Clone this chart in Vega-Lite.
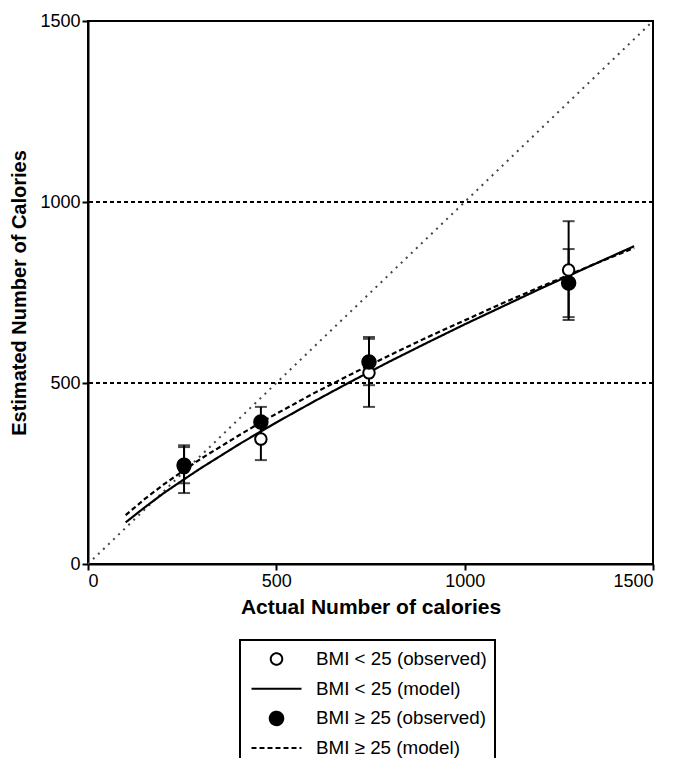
{
  "$schema": "https://vega.github.io/schema/vega-lite/v6.json",
  "width": 565,
  "height": 543,
  "autosize": {"type": "none"},
  "padding": {"left": 88, "top": 21, "right": 20, "bottom": 194},
  "datasets": {
    "observed": [
      {"series": "BMI < 25 (observed)", "x": 255, "y": 266, "lo": 196, "hi": 328},
      {"series": "BMI < 25 (observed)", "x": 459, "y": 345, "lo": 287, "hi": 403},
      {"series": "BMI < 25 (observed)", "x": 746, "y": 528, "lo": 434, "hi": 622},
      {"series": "BMI < 25 (observed)", "x": 1276, "y": 812, "lo": 674, "hi": 947},
      {"series": "BMI ≥ 25 (observed)", "x": 255, "y": 273, "lo": 223, "hi": 323},
      {"series": "BMI ≥ 25 (observed)", "x": 459, "y": 392, "lo": 350, "hi": 434},
      {"series": "BMI ≥ 25 (observed)", "x": 746, "y": 558, "lo": 494, "hi": 627},
      {"series": "BMI ≥ 25 (observed)", "x": 1276, "y": 776, "lo": 682, "hi": 870}
    ],
    "model": [
      {"series": "BMI < 25 (model)", "x": 100, "y": 115},
      {"series": "BMI < 25 (model)", "x": 150, "y": 156},
      {"series": "BMI < 25 (model)", "x": 200, "y": 195},
      {"series": "BMI < 25 (model)", "x": 255, "y": 234},
      {"series": "BMI < 25 (model)", "x": 300, "y": 265},
      {"series": "BMI < 25 (model)", "x": 400, "y": 330},
      {"series": "BMI < 25 (model)", "x": 460, "y": 367},
      {"series": "BMI < 25 (model)", "x": 500, "y": 391},
      {"series": "BMI < 25 (model)", "x": 600, "y": 449},
      {"series": "BMI < 25 (model)", "x": 700, "y": 505},
      {"series": "BMI < 25 (model)", "x": 800, "y": 559},
      {"series": "BMI < 25 (model)", "x": 900, "y": 611},
      {"series": "BMI < 25 (model)", "x": 1000, "y": 662},
      {"series": "BMI < 25 (model)", "x": 1100, "y": 711},
      {"series": "BMI < 25 (model)", "x": 1200, "y": 760},
      {"series": "BMI < 25 (model)", "x": 1280, "y": 798},
      {"series": "BMI < 25 (model)", "x": 1350, "y": 831},
      {"series": "BMI < 25 (model)", "x": 1450, "y": 878},
      {"series": "BMI ≥ 25 (model)", "x": 100, "y": 135},
      {"series": "BMI ≥ 25 (model)", "x": 150, "y": 179},
      {"series": "BMI ≥ 25 (model)", "x": 200, "y": 219},
      {"series": "BMI ≥ 25 (model)", "x": 255, "y": 259},
      {"series": "BMI ≥ 25 (model)", "x": 300, "y": 291},
      {"series": "BMI ≥ 25 (model)", "x": 400, "y": 355},
      {"series": "BMI ≥ 25 (model)", "x": 460, "y": 392},
      {"series": "BMI ≥ 25 (model)", "x": 500, "y": 415},
      {"series": "BMI ≥ 25 (model)", "x": 600, "y": 472},
      {"series": "BMI ≥ 25 (model)", "x": 700, "y": 525},
      {"series": "BMI ≥ 25 (model)", "x": 800, "y": 576},
      {"series": "BMI ≥ 25 (model)", "x": 900, "y": 626},
      {"series": "BMI ≥ 25 (model)", "x": 1000, "y": 673},
      {"series": "BMI ≥ 25 (model)", "x": 1100, "y": 720},
      {"series": "BMI ≥ 25 (model)", "x": 1200, "y": 765},
      {"series": "BMI ≥ 25 (model)", "x": 1280, "y": 800},
      {"series": "BMI ≥ 25 (model)", "x": 1350, "y": 831},
      {"series": "BMI ≥ 25 (model)", "x": 1450, "y": 873}
    ],
    "identity": [{"x": 0, "y": 0}, {"x": 1500, "y": 1500}],
    "refs": [{"y": 500}, {"y": 1000}]
  },
  "encoding": {
    "x": {
      "field": "x", "type": "quantitative",
      "scale": {"domain": [0, 1500], "nice": false, "zero": false},
      "axis": {"values": [0, 500, 1000, 1500], "format": "d", "title": "Actual Number of calories", "grid": false, "titleFontSize": 21}
    },
    "y": {
      "field": "y", "type": "quantitative",
      "scale": {"domain": [0, 1500], "nice": false, "zero": false},
      "axis": {"values": [0, 500, 1000, 1500], "format": "d", "title": "Estimated Number of Calories", "grid": false, "titleFontSize": 20}
    }
  },
  "layer": [
    {
      "data": {"name": "identity"},
      "mark": {"type": "line", "stroke": "#444444", "strokeWidth": 2, "strokeDash": [2, 5]},
      "encoding": {}
    },
    {
      "data": {"name": "refs"},
      "mark": {"type": "rule", "stroke": "black", "strokeWidth": 2, "strokeDash": [4, 3]},
      "encoding": {"x": null}
    },
    {
      "data": {"name": "model"},
      "mark": {"type": "line", "stroke": "black", "strokeWidth": 2.2},
      "encoding": {
        "strokeDash": {
          "field": "series", "type": "nominal",
          "scale": {
            "domain": ["BMI < 25 (observed)", "BMI < 25 (model)", "BMI ≥ 25 (observed)", "BMI ≥ 25 (model)"],
            "range": [[1, 0], [1, 0], [1, 0], [5, 3]]
          },
          "legend": {"encode": {"symbols": {"update": {"stroke": {"value": "black"}, "strokeWidth": {"value": 2}}}, "legend": {"update": {"strokeWidth": {"value": 2}}}}}
        }
      }
    },
    {
      "data": {"name": "observed"},
      "mark": {"type": "rule", "stroke": "black", "strokeWidth": 2},
      "encoding": {"y": {"field": "lo", "type": "quantitative"}, "y2": {"field": "hi"}}
    },
    {
      "data": {"name": "observed"},
      "mark": {"type": "tick", "orient": "horizontal", "color": "black", "size": 12, "thickness": 2},
      "encoding": {"y": {"field": "lo", "type": "quantitative"}}
    },
    {
      "data": {"name": "observed"},
      "mark": {"type": "tick", "orient": "horizontal", "color": "black", "size": 12, "thickness": 2},
      "encoding": {"y": {"field": "hi", "type": "quantitative"}}
    },
    {
      "data": {"name": "observed"},
      "mark": {"type": "point", "filled": true, "stroke": "black", "strokeWidth": 2, "opacity": 1, "size": 625},
      "encoding": {
        "shape": {
          "field": "series", "type": "nominal",
          "scale": {
            "domain": ["BMI < 25 (observed)", "BMI < 25 (model)", "BMI ≥ 25 (observed)", "BMI ≥ 25 (model)"],
            "range": [
              "M-0.46,0A0.46,0.46,0,1,0,0.46,0A0.46,0.46,0,1,0,-0.46,0Z",
              "M-2,0L2,0",
              "M-0.54,0A0.54,0.54,0,1,0,0.54,0A0.54,0.54,0,1,0,-0.54,0Z",
              "M-2,0L2,0"
            ]
          },
          "legend": {"encode": {"symbols": {"update": {"stroke": {"value": "black"}, "strokeWidth": {"value": 2}}}, "legend": {"update": {"strokeWidth": {"value": 2}}}}}
        },
        "fill": {
          "field": "series", "type": "nominal",
          "scale": {
            "domain": ["BMI < 25 (observed)", "BMI < 25 (model)", "BMI ≥ 25 (observed)", "BMI ≥ 25 (model)"],
            "range": ["white", "transparent", "black", "transparent"]
          },
          "legend": {"encode": {"symbols": {"update": {"stroke": {"value": "black"}, "strokeWidth": {"value": 2}}}, "legend": {"update": {"strokeWidth": {"value": 2}}}}}
        }
      }
    }
  ],
  "config": {
    "font": "Liberation Sans",
    "view": {"stroke": "black", "strokeWidth": 2},
    "axis": {
      "domainColor": "black", "domainWidth": 2,
      "tickColor": "black", "tickWidth": 2, "tickSize": 6,
      "labelFont": "Liberation Sans", "labelFontSize": 18, "labelColor": "black",
      "titleFont": "Liberation Sans", "titleFontSize": 18, "titleFontWeight": "bold", "titleColor": "black",
      "labelPadding": 2
    },
    "axisX": {"titlePadding": 6},
    "axisY": {"titlePadding": 10},
    "legend": {
      "orient": "none",
      "legendX": 152,
      "legendY": 619,
      "title": null,
      "strokeColor": "black",
      "padding": 8,
      "labelFont": "Liberation Sans",
      "labelFontSize": 18.8,
      "labelColor": "black",
      "labelOffset": 26,
      "symbolOffset": 15,
      "symbolSize": 625,
      "symbolStrokeColor": "black",
      "symbolStrokeWidth": 2,
      "clipHeight": 22,
      "rowPadding": 7.7,
      "labelLimit": 400
    }
  }
}
